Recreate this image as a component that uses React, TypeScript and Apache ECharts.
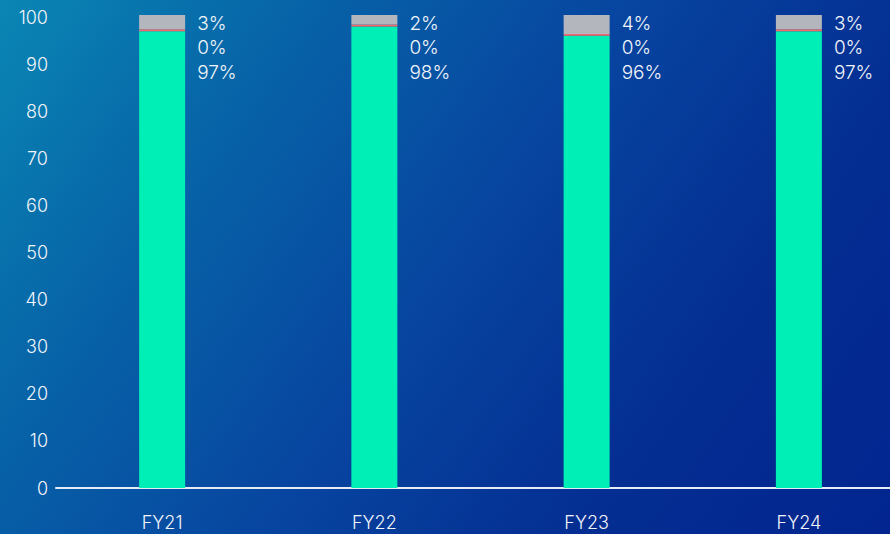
import React, { useEffect, useRef } from "react";
import * as echarts from "echarts";

// Fiscal years on the category axis
const years = ["FY21", "FY22", "FY23", "FY24"];
// Share of each segment, in percent
const greenShare = [97, 98, 96, 97];
const redShare = [0.4, 0.4, 0.4, 0.4];
const greyShare = [3, 2, 4, 3];
// Value axis ticks
const yTicks = [0, 10, 20, 30, 40, 50, 60, 70, 80, 90, 100];

const FONT = "Inter, 'Open Sans', sans-serif";

// Scale: 471px for 0..100, with a little headroom above 100 for the stacked tops
const PX_PER_UNIT = 4.71;
const HEADROOM = 2;

export default function App() {
  const ref = useRef<HTMLDivElement>(null);

  useEffect(() => {
    if (!ref.current) return;
    const chart = echarts.init(ref.current, undefined, { renderer: "svg" });

    const pct = (v: number) => `${Math.round(v)}%`;
    const topTick = yTicks[yTicks.length - 1];

    chart.setOption({
      animation: false,
      backgroundColor: "transparent",
      grid: {
        left: 56,
        right: 0,
        top: 17 - HEADROOM * PX_PER_UNIT,
        bottom: 534 - 488,
        containLabel: false,
      },
      xAxis: {
        type: "category",
        data: years,
        axisLine: { show: true, lineStyle: { color: "#e6ecf5", width: 2 } },
        axisTick: { show: false },
        axisLabel: {
          color: "#f2f5fa",
          fontFamily: FONT,
          fontSize: 18,
          fontWeight: 300,
          margin: 25,
        },
      },
      yAxis: {
        type: "value",
        min: yTicks[0],
        max: topTick + HEADROOM,
        interval: 10,
        splitLine: { show: false },
        axisLine: { show: false },
        axisTick: { show: false },
        axisLabel: {
          color: "#f2f5fa",
          fontFamily: FONT,
          fontSize: 18,
          fontWeight: 300,
          margin: 8,
          showMaxLabel: false,
          formatter: (v: number) => (yTicks.includes(v) ? String(v) : ""),
        },
      },
      series: [
        {
          name: "green",
          type: "bar",
          stack: "total",
          barWidth: 46,
          data: greenShare,
          itemStyle: { color: "#00efb6" },
        },
        {
          name: "red",
          type: "bar",
          stack: "total",
          barWidth: 46,
          data: redShare,
          itemStyle: { color: "#ef6b6e" },
        },
        {
          name: "grey",
          type: "bar",
          stack: "total",
          barWidth: 46,
          data: greyShare,
          itemStyle: { color: "#b4b6bd" },
          label: {
            show: true,
            position: ["100%", 0],
            offset: [12, -4],
            align: "left",
            verticalAlign: "top",
            color: "#f2f5fa",
            fontFamily: FONT,
            fontSize: 19,
            fontWeight: 300,
            lineHeight: 24.5,
            formatter: (p: any) => {
              const i = p.dataIndex;
              return [pct(greyShare[i]), pct(redShare[i]), pct(greenShare[i])].join("\n");
            },
          },
        },
      ],
    });

    return () => chart.dispose();
  }, []);

  return (
    <div
      style={{
        position: "fixed",
        left: 0,
        top: 0,
        width: 890,
        height: 534,
        overflow: "hidden",
        background:
          "linear-gradient(125deg, #0a86b4 0%, #0766a8 22%, #0745a0 50%, #042e92 75%, #02258f 100%)",
      }}
    >
      <div ref={ref} style={{ width: 905, height: 534 }} />
    </div>
  );
}
